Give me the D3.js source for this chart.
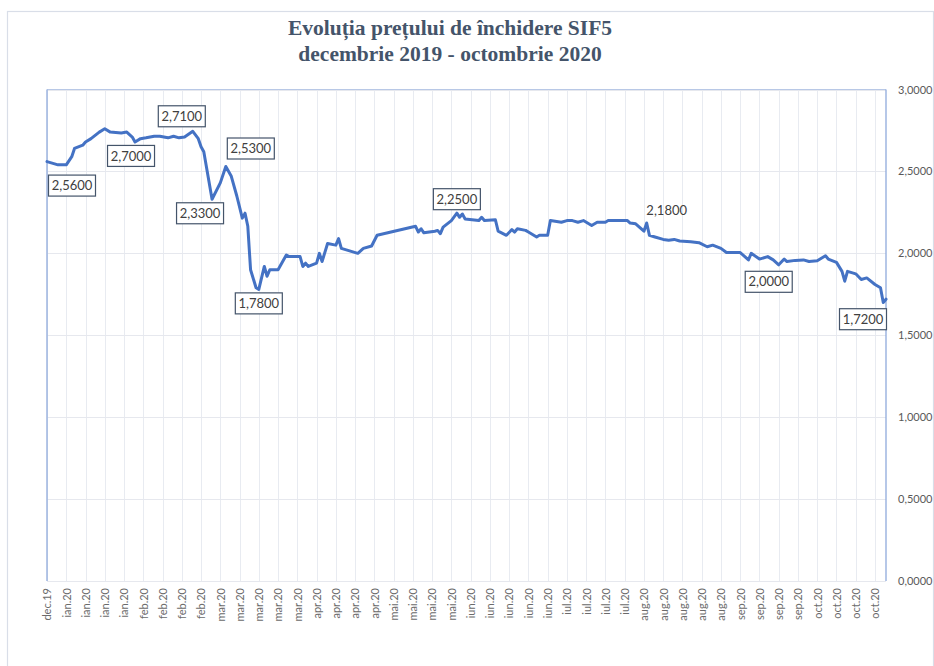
<!DOCTYPE html>
<html>
<head>
<meta charset="utf-8">
<script src="https://cdn.jsdelivr.net/npm/d3@7"></script>
<style>
  html, body { margin: 0; padding: 0; background: #ffffff; }
  svg { display: block; }
</style>
</head>
<body>
<svg id="chart" width="934" height="666"></svg>
<script>
// ---------------- DATA ----------------
const titleLines = ["Evoluția prețului de închidere SIF5", "decembrie 2019 - octombrie 2020"];
const monthNames = ["ian", "feb", "mar", "apr", "mai", "iun", "iul", "aug", "sep", "oct", "nov", "dec"];
const yTicks = [0, 0.5, 1.0, 1.5, 2.0, 2.5, 3.0];

const dates = [
  "2019-12-30","2020-01-03","2020-01-06","2020-01-08","2020-01-09","2020-01-12","2020-01-13","2020-01-15",
  "2020-01-18","2020-01-20","2020-01-22","2020-01-26","2020-01-28","2020-01-30","2020-01-31","2020-02-02",
  "2020-02-04","2020-02-07","2020-02-09","2020-02-12","2020-02-14","2020-02-16","2020-02-18","2020-02-21",
  "2020-02-23","2020-02-24","2020-02-25","2020-02-28","2020-03-02","2020-03-04","2020-03-06","2020-03-08",
  "2020-03-10","2020-03-11","2020-03-12","2020-03-13","2020-03-15","2020-03-16","2020-03-18","2020-03-19",
  "2020-03-20","2020-03-23","2020-03-26","2020-03-27","2020-03-31","2020-04-01","2020-04-02","2020-04-03",
  "2020-04-06","2020-04-07","2020-04-08","2020-04-10","2020-04-13","2020-04-14","2020-04-15","2020-04-21",
  "2020-04-23","2020-04-26","2020-04-28","2020-05-12","2020-05-13","2020-05-14","2020-05-15","2020-05-19",
  "2020-05-20","2020-05-21","2020-05-22","2020-05-25","2020-05-27","2020-05-28","2020-05-29","2020-05-30",
  "2020-06-04","2020-06-05","2020-06-06","2020-06-10","2020-06-11","2020-06-14","2020-06-16","2020-06-17",
  "2020-06-18","2020-06-21","2020-06-22","2020-06-25","2020-06-26","2020-06-29","2020-06-30","2020-07-04",
  "2020-07-06","2020-07-08","2020-07-10","2020-07-12","2020-07-15","2020-07-17","2020-07-20","2020-07-21",
  "2020-07-28","2020-07-29","2020-07-31","2020-08-03","2020-08-04","2020-08-05","2020-08-07","2020-08-10",
  "2020-08-12","2020-08-14","2020-08-16","2020-08-20","2020-08-23","2020-08-26","2020-08-28","2020-08-31",
  "2020-09-02","2020-09-07","2020-09-10","2020-09-11","2020-09-14","2020-09-17","2020-09-19","2020-09-21",
  "2020-09-23","2020-09-24","2020-09-27","2020-09-30","2020-10-02","2020-10-05","2020-10-08","2020-10-09",
  "2020-10-12","2020-10-14","2020-10-15","2020-10-16","2020-10-19","2020-10-21","2020-10-23","2020-10-26",
  "2020-10-28","2020-10-29","2020-10-30"
];
const prices = [
  2.56, 2.54, 2.54, 2.59, 2.64, 2.66, 2.68, 2.70,
  2.74, 2.76, 2.74, 2.735, 2.74, 2.71, 2.68, 2.70,
  2.705, 2.715, 2.715, 2.705, 2.715, 2.705, 2.71, 2.745,
  2.70, 2.65, 2.62, 2.33, 2.43, 2.53, 2.47, 2.35,
  2.215, 2.245, 2.165, 1.90, 1.79, 1.78, 1.92, 1.86,
  1.90, 1.90, 1.99, 1.98, 1.98, 1.92, 1.94, 1.92,
  1.94, 2.00, 1.95, 2.06, 2.05, 2.09, 2.03, 2.00,
  2.03, 2.045, 2.11, 2.165, 2.13, 2.15, 2.125, 2.135,
  2.14, 2.12, 2.16, 2.20, 2.245, 2.22, 2.24, 2.21,
  2.20, 2.22, 2.20, 2.205, 2.135, 2.11, 2.145, 2.13,
  2.15, 2.14, 2.13, 2.10, 2.11, 2.11, 2.20, 2.19,
  2.20, 2.20, 2.19, 2.20, 2.17, 2.19, 2.19, 2.20,
  2.20, 2.185, 2.18, 2.135, 2.185, 2.11, 2.10, 2.085,
  2.08, 2.085, 2.075, 2.07, 2.065, 2.04, 2.05, 2.03,
  2.005, 2.005, 1.96, 2.00, 1.965, 1.98, 1.96, 1.93,
  1.965, 1.95, 1.957, 1.96, 1.95, 1.955, 1.985, 1.965,
  1.945, 1.89, 1.83, 1.89, 1.875, 1.84, 1.85, 1.81,
  1.79, 1.70, 1.72
];

// annotated points (date, value, label text, boxed)
const annDates  = ["2019-12-30","2020-01-31","2020-02-21","2020-03-04","2020-02-28","2020-03-16","2020-05-27","2020-08-04","2020-09-21","2020-10-30"];
const annValues = [2.56, 2.68, 2.745, 2.53, 2.33, 1.78, 2.245, 2.185, 1.93, 1.72];
const annLabels = ["2,5600","2,7000","2,7100","2,5300","2,3300","1,7800","2,2500","2,1800","2,0000","1,7200"];
const annBoxed  = [true, true, true, true, true, true, true, false, true, true];

// ---------------- LAYOUT / STYLE ----------------
const W = 934, H = 666;
const plot = { left: 47, right: 886, top: 89.5, bottom: 581 };
const annOffsets = [[25,24],[-4,14],[-11,-15],[25,-18],[-12,14],[0,14],[0,-14],[20,-13],[-10,17],[-23,20]];
const lineColor = "#4472c4";
const textGray = "#595959";

const parse = d3.timeParse("%Y-%m-%d");
const data = dates.map((d, i) => ({ date: parse(d), value: prices[i] }));

const svg = d3.select("#chart");

// outer chart border
svg.append("rect")
  .attr("x", 7.5).attr("y", 11.5)
  .attr("width", 926).attr("height", 700)
  .attr("fill", "#ffffff")
  .attr("stroke", "#d9dee8").attr("stroke-width", 1.2);

const x = d3.scaleTime()
  .domain([data[0].date, data[data.length - 1].date])
  .range([plot.left, plot.right]);
const y = d3.scaleLinear().domain([0, 3]).range([plot.bottom, plot.top]);

const tickDates = d3.timeMonday.range(data[0].date, d3.timeDay.offset(data[data.length - 1].date, 1));
const fmtDate = d => monthNames[d.getMonth()] + "." + String(d.getFullYear()).slice(2);
const fmtVal = v => d3.format(".4f")(v).replace(".", ",");

// vertical gridlines
svg.append("g").selectAll("line").data(tickDates).join("line")
  .attr("x1", d => Math.round(x(d)) + 0.5).attr("x2", d => Math.round(x(d)) + 0.5)
  .attr("y1", plot.top).attr("y2", plot.bottom)
  .attr("stroke", "#e8ebf1").attr("stroke-width", 1);

// horizontal gridlines
svg.append("g").selectAll("line").data(yTicks).join("line")
  .attr("x1", plot.left).attr("x2", plot.right)
  .attr("y1", d => Math.round(y(d)) + 0.5).attr("y2", d => Math.round(y(d)) + 0.5)
  .attr("stroke", "#e6e8ee").attr("stroke-width", 1);

// plot frame: top line, left & right vertical lines
svg.append("line")
  .attr("x1", plot.left).attr("x2", plot.right)
  .attr("y1", plot.top).attr("y2", plot.top)
  .attr("stroke", "#b8c8e6").attr("stroke-width", 1.2);
svg.append("line")
  .attr("x1", plot.left).attr("x2", plot.left)
  .attr("y1", plot.top).attr("y2", plot.bottom)
  .attr("stroke", "#8faadc").attr("stroke-width", 1.3);
svg.append("line")
  .attr("x1", plot.right).attr("x2", plot.right)
  .attr("y1", plot.top).attr("y2", plot.bottom)
  .attr("stroke", "#8faadc").attr("stroke-width", 1.3);

// right axis
const yAxis = d3.axisRight(y).tickValues(yTicks).tickFormat(fmtVal).tickSize(0).tickPadding(12);
const gy = svg.append("g").attr("transform", `translate(${plot.right},0)`).call(yAxis);
gy.select(".domain").remove();
gy.selectAll("text")
  .attr("fill", textGray)
  .style("font-family", "Lato, 'Open Sans', sans-serif")
  .style("font-size", "11px");

// bottom axis (rotated labels)
const xAxis = d3.axisBottom(x).tickValues(tickDates).tickFormat(fmtDate).tickSize(0).tickPadding(0);
const gx = svg.append("g").attr("transform", `translate(0,${plot.bottom})`).call(xAxis);
gx.select(".domain").remove();
gx.selectAll("text")
  .attr("transform", "rotate(-90)")
  .attr("x", -7).attr("y", 0).attr("dy", "0.35em")
  .attr("text-anchor", "end")
  .attr("fill", "#6b6b6b")
  .style("font-family", "Lato, 'Open Sans', sans-serif")
  .style("font-size", "11px");

// price line
const line = d3.line().x(d => x(d.date)).y(d => y(d.value));
svg.append("path")
  .datum(data)
  .attr("d", line)
  .attr("fill", "none")
  .attr("stroke", lineColor)
  .attr("stroke-width", 3)
  .attr("stroke-linejoin", "round")
  .attr("stroke-linecap", "round");

// annotations
const ann = annDates.map((d, i) => ({
  date: parse(d), value: annValues[i], label: annLabels[i], boxed: annBoxed[i],
  dx: annOffsets[i][0], dy: annOffsets[i][1]
}));
const ag = svg.append("g").selectAll("g").data(ann).join("g")
  .attr("transform", d => `translate(${x(d.date) + d.dx},${y(d.value) + d.dy})`);
ag.filter(d => d.boxed).append("rect")
  .attr("x", -23.5).attr("y", -10.5)
  .attr("width", 47).attr("height", 21)
  .attr("fill", "#ffffff")
  .attr("stroke", "#44546a").attr("stroke-width", 1.2);
ag.append("text")
  .attr("text-anchor", "middle")
  .attr("dy", "0.36em")
  .attr("fill", "#404040")
  .style("font-family", "Lato, 'Open Sans', sans-serif")
  .style("font-size", "13px")
  .text(d => d.label);

// title
const tg = svg.append("g");
tg.selectAll("text").data(titleLines).join("text")
  .attr("x", 450)
  .attr("y", (d, i) => 35 + i * 26)
  .attr("text-anchor", "middle")
  .attr("fill", "#44546a")
  .style("font-family", "'Liberation Serif', 'Times New Roman', serif")
  .style("font-weight", "bold")
  .style("font-size", "21.5px")
  .text(d => d);
</script>
</body>
</html>
